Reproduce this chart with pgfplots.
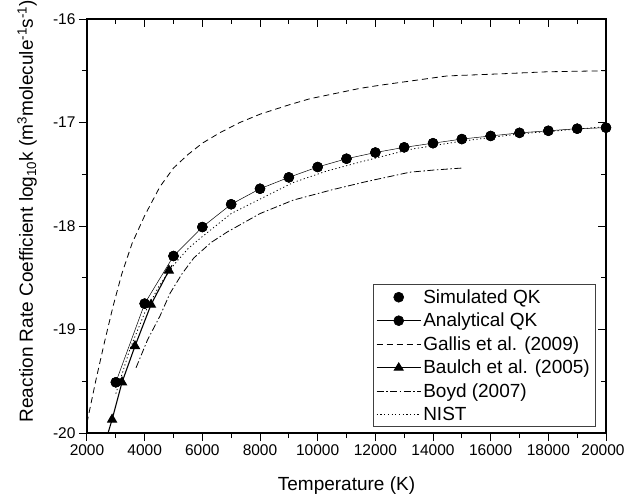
\documentclass[border=0pt]{standalone}
\usepackage{fontspec}
\setmainfont{Liberation Sans}
\usepackage{pgfplots}
\pgfplotsset{compat=1.18}
\begin{document}
\begin{tikzpicture}
\path[use as bounding box] (-87pt,-63pt) rectangle (539pt,433pt);
\pgfplotsset{
  common/.style={
    width=519pt, height=414pt, scale only axis,
    xmin=2000, xmax=20000, ymin=-20, ymax=-16,
    scaled ticks=false,
    xtick={2000,4000,6000,8000,10000,12000,14000,16000,18000,20000},
    ytick={-20,-19,-18,-17,-16},
    minor x tick num=1, minor y tick num=1,
    axis line style={line width=1.1pt},
    major tick length=8pt, minor tick length=5pt,
    every tick/.style={black, line width=1pt},
    tick label style={font=\fontsize{15.5}{18}\selectfont},
    label style={font=\fontsize{19}{22}\selectfont},
  }
}
% axis with outward ticks, labels (bottom/left)
\begin{axis}[common,
  tick align=outside,
  xtick pos=left, ytick pos=left,
  xticklabels={2000,4000,6000,8000,10000,12000,14000,16000,18000,\hspace*{-6pt}20000},
  yticklabels={-20,-19,-18,-17,-16},
  xlabel={Temperature (K)},
  ylabel={Reaction Rate Coefficient log\textsubscript{10}k (m\textsuperscript{3}molecule\textsuperscript{-1}s\textsuperscript{-1})},
  xlabel style={at={(axis description cs:0.5,-0.128)}, anchor=center},
  ylabel style={at={(axis description cs:-0.1156,0.536)}, anchor=center},
]
\end{axis}
% axis with inward ticks (top/right), data and legend
\begin{axis}[common,
  tick align=inside,
  xtick pos=right, ytick pos=right,
  xticklabels={}, yticklabels={},
  legend image code/.code={\draw[#1] (0pt,0pt) -- (44pt,0pt);},
  legend style={at={(0.979,0.0145)}, anchor=south east, draw=black!75, line width=0.6pt,
    font=\fontsize{19}{22}\selectfont, row sep=4.2pt, inner xsep=3pt, inner ysep=3pt},
  legend cell align=left,
]
\addplot[only marks, mark=*, mark size=5pt, black,
  legend image code/.code={\fill[black] (22pt,0pt) circle (5pt);}]
  coordinates {(3000,-19.51) (4000,-18.75) (5000,-18.29) (6000,-18.01) (7000,-17.79)
  (8000,-17.64) (9000,-17.53) (10000,-17.43) (11000,-17.35) (12000,-17.29) (13000,-17.24)
  (14000,-17.20) (15000,-17.16) (16000,-17.13) (17000,-17.10) (18000,-17.08) (19000,-17.06) (20000,-17.05)};
\addlegendentry{Simulated QK}
\addplot[black, line width=0.5pt, mark=*, mark size=5pt,
  legend image code/.code={\draw[black, line width=0.5pt] (0pt,0pt) -- (44pt,0pt); \fill[black] (22pt,0pt) circle (5pt);}]
  coordinates {(3000,-19.51) (4000,-18.75) (5000,-18.29) (6000,-18.01) (7000,-17.79)
  (8000,-17.64) (9000,-17.53) (10000,-17.43) (11000,-17.35) (12000,-17.29) (13000,-17.24)
  (14000,-17.20) (15000,-17.16) (16000,-17.13) (17000,-17.10) (18000,-17.08) (19000,-17.06) (20000,-17.05)};
\addlegendentry{Analytical QK}
\addplot[black, line width=0.8pt, dash pattern=on 6pt off 4pt]
  coordinates {(2000,-19.90) (2300,-19.50) (2600,-19.13) (2900,-18.78) (3200,-18.47)
  (3560,-18.17) (4000,-17.90) (4530,-17.62) (5000,-17.44) (5500,-17.31) (6000,-17.20)
  (6600,-17.10) (7300,-17.00) (8000,-16.92) (9000,-16.83) (9735,-16.77) (11470,-16.67)
  (12160,-16.64) (14490,-16.55) (16330,-16.53) (17950,-16.51) (20000,-16.50)};
\addlegendentry{Gallis et al. (2009)}
\addplot[black, line width=1.1pt, mark=triangle*, mark size=5pt, mark indices={2,3,4,5,6},
  legend image code/.code={\draw[black, line width=1.1pt] (0pt,0pt) -- (44pt,0pt); \fill[black] (22pt,4.5pt) -- (26.3pt,-2.5pt) -- (17.7pt,-2.5pt) -- cycle;}]
  coordinates {(2730,-20.0) (2870,-19.87) (3215,-19.51) (3665,-19.16) (4220,-18.76) (4840,-18.43) (4950,-18.38)};
\addlegendentry{Baulch et al. (2005)}
\addplot[black, line width=0.8pt, dash pattern=on 7pt off 2.5pt on 1.5pt off 2.5pt]
  coordinates {(3700,-19.37) (4100,-19.10) (4530,-18.87) (4880,-18.65) (5300,-18.46)
  (5700,-18.31) (6300,-18.16) (6850,-18.06) (8000,-17.88) (9150,-17.75) (10500,-17.65) (11700,-17.57)
  (13200,-17.48) (14000,-17.46) (15000,-17.44)};
\addlegendentry{Boyd (2007)}
\addplot[black, line width=0.8pt, dash pattern=on 1.2pt off 2.5pt]
  coordinates {(3000,-19.62) (3500,-19.18) (4000,-18.84) (4500,-18.58) (5000,-18.38)
  (5500,-18.22) (5920,-18.12) (7000,-17.88) (8000,-17.74) (9150,-17.58) (10300,-17.47)
  (11500,-17.38) (13200,-17.26) (15000,-17.18) (17000,-17.11) (20000,-17.04)};
\addlegendentry{NIST}
\end{axis}
\end{tikzpicture}
\end{document}
